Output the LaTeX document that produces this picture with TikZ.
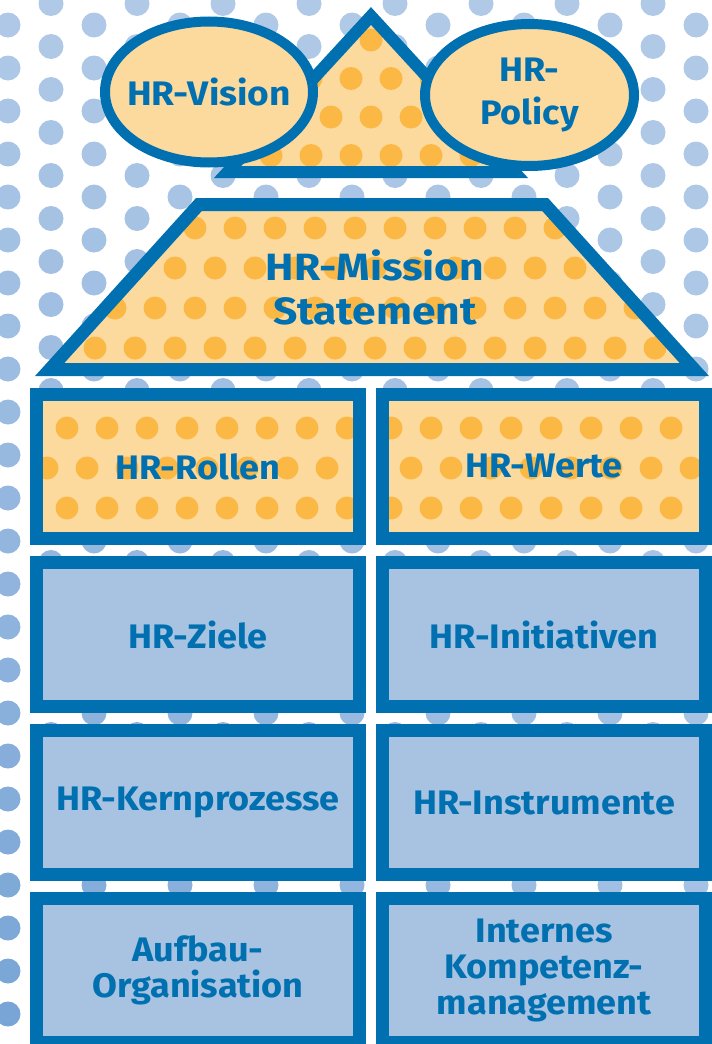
\documentclass[tikz,border=0pt]{standalone}
\usepackage{fontspec}
\setmainfont{Fira Sans}
\usepackage{tikz}
\usetikzlibrary{shapes.geometric}

\definecolor{hrblue}{RGB}{0,112,176}
\definecolor{boxblue}{RGB}{167,195,225}
\definecolor{paleorange}{RGB}{252,217,157}
\definecolor{dotorange}{RGB}{251,184,69}
\definecolor{dotlight}{RGB}{190,210,235}
\definecolor{dotdark}{RGB}{100,152,208}

\newcommand{\hrdots}[5]{%
    \foreach \j in {0,...,#4} {
        \foreach \k in {0,...,#5} {
            \fill [dotorange] ({#1 + 40*\k - 20*mod(\j,2)}, {#2 + #3*\j}) circle(11.5pt);
        }
    }%
}
\newcommand{\hrfont}[2]{\fontsize{#1}{#2}\selectfont\bfseries\addfontfeatures{FakeStretch=1.06}}

\tikzset{
    hrtext/.style = {text = hrblue, font = \hrfont{34}{36}, align = center},
    hrframe/.style = {draw = hrblue, line width = 13pt},
    hrbox/.style = {hrframe, hrtext, fill = boxblue, minimum width = 323pt, minimum height = 144pt, inner sep = 0pt},
    hroval/.style = {ellipse, draw = hrblue, line width = 10pt, fill = paleorange, hrtext, inner ysep = 0pt, inner xsep = -30pt},
}

\begin{document}
\begin{tikzpicture}[x = 1pt, y = -1pt]
        \useasboundingbox (0,0) rectangle (712,1044);
        \clip (0,0) rectangle (712,1044);

        \foreach \i in {0,...,16} {
            \foreach \j in {0,...,24} {
                \pgfmathsetmacro{\bx}{8 + 43*\i}
                \pgfmathsetmacro{\by}{25 + 43*\j - 21.5*mod(\i,2)}
                \pgfmathsetmacro{\bt}{15 + 65*(\by/1044)*(1 - \bx/900)}
                \fill [color = dotdark!\bt!dotlight] (\bx,\by) circle(12.5pt);
            }
        }

        \fill [paleorange] (198.9,204.5) -- (545.1,204.5) -- (694.3,369.5) -- (49.7,369.5) -- cycle;
        \begin{scope}
            \clip (198.9,204.5) -- (545.1,204.5) -- (694.3,369.5) -- (49.7,369.5) -- cycle;
            \hrdots{35}{228}{40}{3}{17}
        \end{scope}
        \draw [hrframe] (198.9,204.5) -- (545.1,204.5) -- (694.3,369.5) -- (49.7,369.5) -- cycle;
        \node [hrtext, font = \fontsize{38}{44}\selectfont\bfseries\addfontfeatures{FakeStretch=1.12}] (mission) at (375,287) {HR-Mission\\Statement};

        \fill [paleorange] (371,16) -- (514.4,172) -- (227.6,172) -- cycle;
        \begin{scope}
            \clip (371,16) -- (514.4,172) -- (227.6,172) -- cycle;
            \hrdots{51}{40}{38.5}{3}{12}
        \end{scope}
        \draw [hrframe, line width = 12pt] (371,16) -- (514.4,172) -- (227.6,172) -- cycle;

        \node [hroval, minimum width = 208pt, minimum height = 141pt, font = \hrfont{34}{36}\addfontfeatures{FakeStretch=1.09}] (vision) at (209,92) {HR-Vision};
        \node [hroval, minimum width = 209pt, minimum height = 142pt, font = \hrfont{34}{43}] (policy) at (529.5,95) {HR-\\Policy};

        \fill [paleorange] (36.5,394.5) rectangle (359.5,538.5);
        \begin{scope}
            \clip (36.5,394.5) rectangle (359.5,538.5);
            \hrdots{27}{428}{40}{2}{9}
        \end{scope}
        \node [hrbox, fill = none] (rollen) at (198,466.5) {HR-Rollen};

        \fill [paleorange] (382.5,394.5) rectangle (705.5,538.5);
        \begin{scope}
            \clip (382.5,394.5) rectangle (705.5,538.5);
            \hrdots{31}{428}{40}{2}{18}
        \end{scope}
        \node [hrbox, fill = none] (werte) at (544,466.5) {HR-Werte};

        \node [hrbox] (ziele) at (198,634.5) {HR-Ziele};
        \node [hrbox] (initiativen) at (544,634.5) {HR-Initiativen};

        \node [hrbox] (kernprozesse) at (198,802.5) {HR-Kernprozesse};
        \node [hrbox] (instrumente) at (544,802.5) {HR-Instrumente};

        \node [hrbox] (aufbau) at (198,970.5) {Aufbau-\\Organisation};
        \node [hrbox] (kompetenz) at (544,970.5) {Internes\\Kompetenz-\\management};
    \end{tikzpicture}
\end{document}
